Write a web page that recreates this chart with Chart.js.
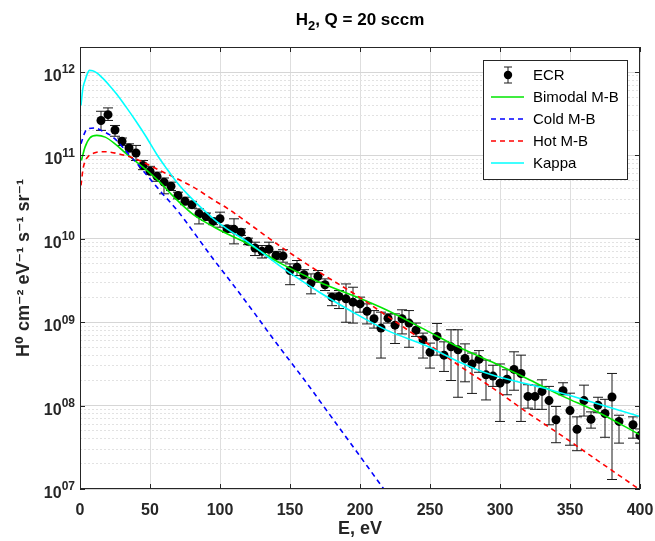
<!DOCTYPE html>
<html lang="en">
<head>
<meta charset="UTF-8">
<title>H2, Q = 20 sccm</title>
<script src="https://cdn.jsdelivr.net/npm/chart.js@4.4.0/dist/chart.umd.min.js"></script>
<style>
  body { margin: 0; background: #fff; }
  #wrap { width: 655px; height: 541px; }
</style>
</head>
<body>
<div id="wrap"><canvas id="spectrum" width="655" height="541"></canvas></div>
<script>
// ECR measurement, E in eV
const energy = [15, 20, 25, 30, 35, 40, 45, 50, 55, 60, 65, 70, 75, 80, 85, 90, 95, 100,
  105, 110, 115, 120, 125, 130, 135, 140, 145, 150, 155, 160, 165, 170, 175, 180, 185, 190,
  195, 200, 205, 210, 215, 220, 225, 230, 235, 240, 245, 250, 255, 260, 265, 270, 275, 280,
  285, 290, 295, 300, 305, 310, 315, 320, 325, 330, 335, 340, 345, 350, 355, 360, 365, 370,
  375, 380, 385, 395, 400];
const ecrFlux = [2.63e11, 3.09e11, 2.02e11, 1.48e11, 1.23e11, 1.07e11, 7.59e10, 6.46e10, 5.62e10,
  4.79e10, 4.27e10, 3.31e10, 2.82e10, 2.57e10, 2.00e10, 1.86e10, 1.62e10, 1.74e10,
  1.32e10, 1.30e10, 1.20e10, 9.33e9, 7.76e9, 7.08e9, 7.50e9, 6.31e9, 6.24e9, 4.17e9, 4.57e9,
  3.72e9, 2.95e9, 3.55e9, 2.82e9, 2.00e9, 2.04e9, 1.91e9, 1.74e9, 1.66e9, 1.35e9, 1.10e9,
  8.51e8, 1.12e9, 9.23e8, 1.10e9, 9.77e8, 8.04e8, 6.17e8, 4.37e8, 6.76e8, 4.03e8, 5.07e8,
  4.68e8, 3.67e8, 3.16e8, 3.59e8, 2.34e8, 2.26e8, 1.86e8, 2.07e8, 2.72e8, 2.43e8, 1.29e8,
  1.29e8, 1.48e8, 1.15e8, 6.76e7, 1.51e8, 8.71e7, 5.19e7, 1.15e8, 6.84e7, 1.01e8, 8.04e7,
  1.27e8, 6.46e7, 5.89e7, 4.37e7];
const ecrHigh = [3.39e11, 3.72e11, 2.29e11, 1.62e11, 1.38e11, 1.32e11, 8.71e10, 7.41e10, 6.31e10,
  5.37e10, 4.79e10, 3.63e10, 3.16e10, 2.82e10, 2.29e10, 2.04e10, 1.78e10, 2.09e10,
  1.45e10, 1.74e10, 1.32e10, 1.02e10, 9.12e9, 8.32e9, 9.12e9, 7.08e9, 7.41e9, 5.01e9, 5.50e9,
  4.27e9, 3.80e9, 4.17e9, 3.31e9, 2.24e9, 2.40e9, 2.88e9, 2.63e9, 2.00e9, 1.66e9, 1.38e9,
  1.32e9, 1.26e9, 1.26e9, 1.41e9, 1.38e9, 9.77e8, 7.41e8, 5.62e8, 9.66e8, 5.82e8, 8.13e8,
  8.13e8, 5.50e8, 4.27e8, 4.57e8, 3.51e8, 3.05e8, 3.16e8, 2.69e8, 4.42e8, 4.03e8, 1.78e8,
  1.76e8, 2.04e8, 1.70e8, 9.77e7, 1.88e8, 1.41e8, 7.33e7, 1.76e8, 8.41e7, 1.26e8, 1.19e8,
  2.43e8, 7.67e7, 7.33e7, 5.25e7];
const ecrLow = [2.00e11, 2.63e11, 1.70e11, 1.32e11, 1.10e11, 8.71e10, 6.76e10, 6.03e10, 4.90e10,
  3.47e10, 3.80e10, 3.02e10, 2.57e10, 2.34e10, 1.51e10, 1.66e10, 1.48e10, 1.38e10,
  1.20e10, 8.71e9, 1.10e10, 8.51e9, 6.31e9, 5.89e9, 6.03e9, 5.62e9, 5.25e9, 2.82e9, 3.63e9,
  3.31e9, 2.19e9, 3.02e9, 2.40e9, 1.58e9, 1.46e9, 1.00e9, 9.77e8, 1.32e9, 9.55e8, 8.51e8,
  3.72e8, 9.77e8, 5.56e8, 7.24e8, 5.01e8, 6.76e8, 3.72e8, 2.82e8, 4.03e8, 2.57e8, 2.00e8,
  1.26e8, 1.93e8, 1.40e8, 2.51e8, 1.17e8, 1.70e8, 6.46e7, 1.35e8, 1.53e8, 6.46e7, 9.33e7,
  9.02e7, 9.02e7, 5.89e7, 3.59e7, 1.35e8, 3.35e7, 2.88e7, 7.50e7, 5.37e7, 8.22e7, 4.17e7,
  1.30e7, 3.55e7, 4.07e7, 3.55e7];

// fitted curves
const bimodalE = [1, 3.6, 7, 12, 18, 25, 33, 45, 57, 69, 81, 96, 105, 120, 144, 171, 195, 219, 247, 270, 294, 321, 345, 369, 400];
const bimodalFlux = [8.71e10, 1.26e11, 1.62e11, 1.74e11, 1.66e11, 1.38e11, 1.05e11, 7.24e10, 4.79e10, 2.95e10, 1.95e10, 1.38e10, 1.15e10, 8.71e9, 5.01e9, 3.02e9, 2.09e9, 1.40e9, 8.04e8, 5.07e8, 3.35e8, 2.04e8, 1.29e8, 8.51e7, 4.47e7];
const coldE = [0.7, 3.6, 6, 10.7, 15, 21, 25, 34.5, 46, 58, 70, 82, 96, 108, 125, 138, 162, 175, 217];
const coldFlux = [1.38e11, 1.91e11, 2.09e11, 2.14e11, 2.00e11, 1.78e11, 1.58e11, 1.05e11, 6.31e10, 3.63e10, 2.14e10, 1.15e10, 5.50e9, 3.02e9, 1.26e9, 6.31e8, 1.86e8, 9.33e7, 1.0e7];
const hotE = [0.7, 2.4, 6, 10, 15, 21, 30, 38, 57, 81, 96, 105, 120, 144, 171, 195, 219, 246, 270, 294, 321, 345, 369, 400];
const hotFlux = [4.37e10, 7.24e10, 9.77e10, 1.07e11, 1.11e11, 1.10e11, 1.02e11, 9.33e10, 6.61e10, 4.17e10, 2.88e10, 2.34e10, 1.55e10, 7.94e9, 3.98e9, 2.24e9, 1.20e9, 5.89e8, 3.09e8, 1.66e8, 7.94e7, 4.27e7, 2.24e7, 9.77e6];
const kappaE = [0.7, 2, 3.6, 5, 6.7, 9, 12, 16, 21, 26, 33, 40, 47, 55, 62, 70, 80, 90, 96, 105, 120, 144, 171, 195, 219, 247, 270, 294, 329, 350, 400];
const kappaFlux = [3.98e11, 6.31e11, 7.94e11, 9.33e11, 1.05e12, 1.035e12, 9.77e11, 8.51e11, 6.92e11, 5.50e11, 3.80e11, 2.57e11, 1.70e11, 1.02e11, 6.92e10, 4.57e10, 3.02e10, 2.09e10, 1.70e10, 1.32e10, 9.12e9, 4.57e9, 2.29e9, 1.32e9, 8.04e8, 5.25e8, 3.39e8, 2.34e8, 1.66e8, 1.32e8, 7.41e7];

const xTicks = [0, 50, 100, 150, 200, 250, 300, 350, 400];
const yTickValues = [1e7, 1e8, 1e9, 1e10, 1e11, 1e12];
const yTickExp = ['07', '08', '09', '10', '11', '12'];

const FONT = '"Liberation Sans", Arial, "DejaVu Sans", sans-serif';
const AXIS = '#262626';

function pts(xs, ys) { return xs.map((x, i) => ({ x: x, y: ys[i] })); }
function isDecade(v) { const l = Math.log10(v); return Math.abs(l - Math.round(l)) < 1e-9; }

// text with raised / lowered parts: [text, 0 | 1 (sup) | -1 (sub)]
function richText(ctx, parts, x, y, size, align) {
  const small = Math.round(size * 0.75);
  const fnt = p => 'bold ' + (p[1] ? small : size) + 'px ' + FONT;
  let w = 0;
  parts.forEach(p => { ctx.font = fnt(p); w += ctx.measureText(p[0]).width; });
  let cx = align === 'center' ? x - w / 2 : (align === 'right' ? x - w : x);
  ctx.textAlign = 'left'; ctx.textBaseline = 'alphabetic';
  parts.forEach(p => {
    ctx.font = fnt(p);
    const dy = p[1] === 1 ? -size * 0.48 : (p[1] === -1 ? size * 0.28 : 0);
    ctx.fillText(p[0], cx, y + dy);
    cx += ctx.measureText(p[0]).width;
  });
}

const errorBars = {
  id: 'errorBars',
  beforeDatasetsDraw(chart) {
    const { ctx, chartArea: a, scales: { x, y } } = chart;
    ctx.save();
    ctx.beginPath(); ctx.rect(a.left, a.top, a.width, a.height); ctx.clip();
    ctx.strokeStyle = '#1a1a1a'; ctx.lineWidth = 1;
    energy.forEach((e, i) => {
      const px = x.getPixelForValue(e);
      const hi = y.getPixelForValue(ecrHigh[i]);
      const lo = y.getPixelForValue(ecrLow[i]);
      ctx.beginPath();
      ctx.moveTo(px, hi); ctx.lineTo(px, lo);
      ctx.moveTo(px - 5, hi); ctx.lineTo(px + 5, hi);
      ctx.moveTo(px - 5, lo); ctx.lineTo(px + 5, lo);
      ctx.stroke();
    });
    ctx.restore();
  }
};

// box round the axes with MATLAB style inward ticks, plus y tick labels
const frame = {
  id: 'frame',
  afterDatasetsDraw(chart) {
    const { ctx, chartArea: a, scales: { x, y } } = chart;
    ctx.save();
    ctx.strokeStyle = AXIS; ctx.lineWidth = 1;
    ctx.strokeRect(a.left + 0.5, a.top + 0.5, a.width - 1, a.height - 1);
    ctx.beginPath();
    xTicks.forEach(v => {
      const px = Math.round(x.getPixelForValue(v)) + 0.5;
      ctx.moveTo(px, a.bottom); ctx.lineTo(px, a.bottom - 5);
      ctx.moveTo(px, a.top); ctx.lineTo(px, a.top + 5);
    });
    yTickValues.forEach(v => {
      const py = Math.round(y.getPixelForValue(v)) + 0.5;
      ctx.moveTo(a.left, py); ctx.lineTo(a.left + 5, py);
      ctx.moveTo(a.right, py); ctx.lineTo(a.right - 5, py);
    });
    ctx.stroke();
    ctx.fillStyle = AXIS;
    yTickValues.forEach((v, i) => {
      const py = y.getPixelForValue(v);
      richText(ctx, [['10', 0], [yTickExp[i], 1]], a.left - 5, py + 9, 16, 'right');
    });
    ctx.restore();
  }
};

const legendBox = {
  id: 'legendBox',
  afterDraw(chart) {
    const { ctx } = chart;
    const bx = 483, by = 60, bw = 144, bh = 119;
    ctx.save();
    ctx.fillStyle = '#fff'; ctx.fillRect(bx, by, bw, bh);
    ctx.strokeStyle = AXIS; ctx.lineWidth = 1;
    ctx.strokeRect(bx + 0.5, by + 0.5, bw, bh);
    ctx.font = '15px ' + FONT;
    ctx.textBaseline = 'middle'; ctx.textAlign = 'left';
    chart.data.datasets.forEach((ds, i) => {
      const yy = by + 15 + i * 22;
      if (ds.showLine === false) {
        const cx = 508;
        ctx.strokeStyle = '#1a1a1a'; ctx.lineWidth = 1;
        ctx.beginPath();
        ctx.moveTo(cx, yy - 8); ctx.lineTo(cx, yy + 8);
        ctx.moveTo(cx - 4, yy - 8); ctx.lineTo(cx + 4, yy - 8);
        ctx.moveTo(cx - 4, yy + 8); ctx.lineTo(cx + 4, yy + 8);
        ctx.stroke();
        ctx.fillStyle = '#000';
        ctx.beginPath(); ctx.arc(cx, yy, 4.2, 0, Math.PI * 2); ctx.fill();
      } else {
        ctx.strokeStyle = ds.borderColor; ctx.lineWidth = ds.borderWidth;
        ctx.setLineDash(ds.borderDash || []);
        ctx.beginPath(); ctx.moveTo(491, yy); ctx.lineTo(524, yy); ctx.stroke();
        ctx.setLineDash([]);
      }
      ctx.fillStyle = '#000';
      ctx.fillText(ds.label, 533, yy + 1);
    });
    ctx.restore();
  }
};

const topTitle = {
  id: 'topTitle',
  afterDraw(chart) {
    const { ctx, chartArea: a } = chart;
    ctx.save();
    ctx.fillStyle = '#000';
    richText(ctx, [['H', 0], ['2', -1], [', Q = 20 sccm', 0]], (a.left + a.right) / 2, 25, 17, 'center');
    ctx.restore();
  }
};

const curve = (label, xs, ys, color, dash, order) => ({
  label: label, data: pts(xs, ys), borderColor: color, borderWidth: 1.6,
  borderDash: dash, pointRadius: 0, cubicInterpolationMode: 'monotone', order: order
});

new Chart(document.getElementById('spectrum'), {
  type: 'line',
  data: {
    datasets: [
      { label: 'ECR', data: pts(energy, ecrFlux), showLine: false, pointRadius: 4.5,
        pointBackgroundColor: '#000', pointBorderColor: '#000', pointBorderWidth: 0, order: 10 },
      curve('Bimodal M-B', bimodalE, bimodalFlux, '#00e600', [], 4),
      curve('Cold M-B', coldE, coldFlux, '#0000ff', [5, 4], 3),
      curve('Hot M-B', hotE, hotFlux, '#ff0000', [5, 4], 2),
      curve('Kappa', kappaE, kappaFlux, '#00ffff', [], 1)
    ]
  },
  options: {
    responsive: false,
    animation: false,
    events: [],
    layout: { padding: { top: 47, right: 15, left: 0, bottom: 0 } },
    plugins: { legend: { display: false }, title: { display: false }, tooltip: { enabled: false } },
    scales: {
      x: {
        type: 'linear', min: 0, max: 400,
        afterBuildTicks(s) { s.ticks = xTicks.map(v => ({ value: v })); },
        afterFit(s) { s.height = 52; s.paddingLeft = 0; s.paddingRight = 0; },
        ticks: { color: AXIS, padding: 12, maxRotation: 0, font: { family: FONT, size: 16, weight: 'bold' } },
        grid: { color: '#dedede', drawTicks: false },
        border: { display: false },
        title: { display: true, text: 'E, eV', color: AXIS, padding: { bottom: 1 },
          font: { family: FONT, size: 18, weight: 'bold' } }
      },
      y: {
        type: 'logarithmic', min: 1e7, max: 2e12,
        afterBuildTicks(s) {
          const t = [];
          for (let e = 7; e <= 12; e++) {
            for (let m = 1; m <= 9; m++) {
              const v = m * Math.pow(10, e);
              if (v <= 2e12) t.push({ value: v, major: m === 1 });
            }
          }
          s.ticks = t;
        },
        afterFit(s) { s.width = 80; s.paddingTop = 0; s.paddingBottom = 0; },
        ticks: { display: false, autoSkip: false },
        grid: {
          drawTicks: false,
          color: c => (c.tick && isDecade(c.tick.value)) ? '#d6d6d6' : '#e2e2e2'
        },
        border: {
          display: false,
          dash: c => (c.tick && !isDecade(c.tick.value)) ? [2, 2] : []
        },
        title: { display: true, text: 'H\u2070 cm\u207b\u00b2 eV\u207b\u00b9 s\u207b\u00b9 sr\u207b\u00b9',
          color: AXIS, padding: { top: 13 }, font: { family: FONT, size: 18, weight: 'bold' } }
      }
    }
  },
  plugins: [errorBars, frame, legendBox, topTitle]
});
</script>
</body>
</html>
